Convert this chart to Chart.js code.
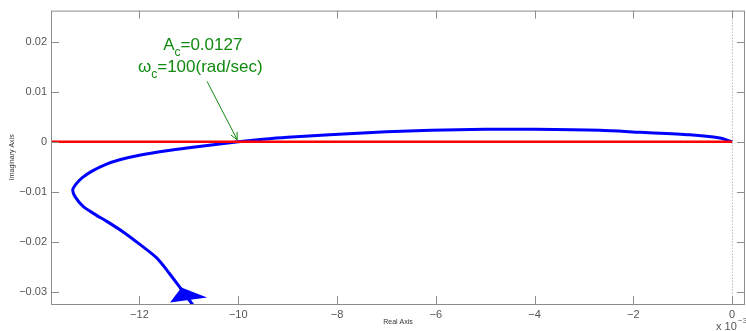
<!DOCTYPE html>
<html>
<head>
<meta charset="utf-8">
<script src="https://cdn.jsdelivr.net/npm/chart.js@4.4.1/dist/chart.umd.min.js"></script>
<style>
  html, body { margin: 0; padding: 0; background: #fff; }
  #wrap { width: 746px; height: 331px; }
</style>
</head>
<body>
<div id="wrap"><canvas id="nyquist"></canvas></div>
<script>
// real part is in units of 1e-3 (axis shows "x 10^-3")
const realPart = [0, -0.25, -0.86, -1.87, -2.68, -4.0, -5.0, -6.1, -7.0, -8.15, -9.0, -9.5, -10.0,
  -10.5, -11.0, -11.45, -12.0, -12.4, -12.7, -12.95, -13.15, -13.28, -13.35, -13.3, -13.14,
  -12.9, -12.66, -12.3, -11.99, -11.65, -11.4, -11.18, -11.0, -10.85];
const imagPart = [0, 0.00075, 0.0014, 0.0019, 0.0023, 0.0025, 0.0025, 0.0023, 0.0020, 0.0014, 0.0009, 0.0005, 0,
  -0.0006, -0.0012, -0.0018, -0.0027, -0.0036, -0.0046, -0.0058, -0.0071, -0.0084, -0.0096, -0.0110, -0.0129,
  -0.0145, -0.0159, -0.0182, -0.0205, -0.0232, -0.0262, -0.0291, -0.0315, -0.0335];

// unit circle crossing line (y = 0)
const redX = [-13.79, 0];
const redY = [0, 0];

// direction arrowhead on the curve
const headX = [-11.15, -11.38, -10.63];
const headY = [-0.0291, -0.0321, -0.0311];

// annotation
const noteLines = [['A', 'c', '=0.0127'], ['\u03c9', 'c', '=100(rad/sec)']];
const noteX = [-11.52, -12.03];
const noteY = [0.0184, 0.01403];
const noteArrow = { from: [-10.63, 0.01205], to: [-10.02, 0.0004] };

const xTicks = [-12, -10, -8, -6, -4, -2, 0];
const yTicks = [-0.03, -0.02, -0.01, 0, 0.01, 0.02];

const pts = (xs, ys) => xs.map((x, i) => ({ x: x, y: ys[i] }));
const fmt = v => {
  const r = Math.round(v * 1000) / 1000;
  return String(r).replace('-', '\u2212');
};

const frame = {
  id: 'frame',
  beforeDatasetsDraw(chart) {
    const { ctx, chartArea: a, scales } = chart;
    // dotted line at re = 0
    const x0 = scales.x.getPixelForValue(0);
    ctx.save();
    ctx.strokeStyle = '#999';
    ctx.lineWidth = 1;
    ctx.setLineDash([1, 2]);
    ctx.beginPath();
    ctx.moveTo(Math.round(x0) + 0.5, a.top);
    ctx.lineTo(Math.round(x0) + 0.5, a.bottom);
    ctx.stroke();
    ctx.restore();
  },
  afterDatasetsDraw(chart) {
    const { ctx, chartArea: a, scales } = chart;
    const sx = scales.x, sy = scales.y;
    ctx.save();
    // box + inward ticks
    ctx.strokeStyle = '#8c8c8c';
    ctx.lineWidth = 1;
    ctx.strokeRect(a.left + 0.5, a.top + 0.5, a.right - a.left - 1, a.bottom - a.top);
    ctx.beginPath();
    xTicks.forEach(v => {
      const p = Math.round(sx.getPixelForValue(v)) + 0.5;
      ctx.moveTo(p, a.bottom); ctx.lineTo(p, a.bottom - 8);
      ctx.moveTo(p, a.top); ctx.lineTo(p, a.top + 8);
    });
    yTicks.forEach(v => {
      const p = Math.round(sy.getPixelForValue(v)) + 0.5;
      ctx.moveTo(a.left, p); ctx.lineTo(a.left + 8, p);
      ctx.moveTo(a.right, p); ctx.lineTo(a.right - 8, p);
    });
    ctx.stroke();

    // arrowhead on the curve
    ctx.fillStyle = '#0000ff';
    ctx.beginPath();
    headX.forEach((x, i) => {
      const px = sx.getPixelForValue(x), py = sy.getPixelForValue(headY[i]);
      i ? ctx.lineTo(px, py) : ctx.moveTo(px, py);
    });
    ctx.closePath();
    ctx.fill();

    // green annotation
    const green = '#108a10';
    ctx.fillStyle = green;
    ctx.textBaseline = 'alphabetic';
    ctx.textAlign = 'left';
    noteLines.forEach((parts, i) => {
      let px = sx.getPixelForValue(noteX[i]);
      const py = sy.getPixelForValue(noteY[i]);
      ctx.font = '17px "Liberation Sans", Arial, sans-serif';
      ctx.fillText(parts[0], px, py);
      px += ctx.measureText(parts[0]).width;
      ctx.font = '12px "Liberation Sans", Arial, sans-serif';
      ctx.fillText(parts[1], px, py + 6);
      px += ctx.measureText(parts[1]).width;
      ctx.font = '17px "Liberation Sans", Arial, sans-serif';
      ctx.fillText(parts[2], px, py);
    });
    const fx = sx.getPixelForValue(noteArrow.from[0]), fy = sy.getPixelForValue(noteArrow.from[1]);
    const tx = sx.getPixelForValue(noteArrow.to[0]), ty = sy.getPixelForValue(noteArrow.to[1]);
    ctx.strokeStyle = green;
    ctx.lineWidth = 1;
    ctx.beginPath();
    ctx.moveTo(fx, fy); ctx.lineTo(tx, ty);
    const ang = Math.atan2(ty - fy, tx - fx);
    ctx.moveTo(tx - 8 * Math.cos(ang - 0.45), ty - 8 * Math.sin(ang - 0.45));
    ctx.lineTo(tx, ty);
    ctx.lineTo(tx - 8 * Math.cos(ang + 0.45), ty - 8 * Math.sin(ang + 0.45));
    ctx.stroke();

    // axis titles
    ctx.fillStyle = '#333';
    ctx.font = '7px "Liberation Sans", Arial, sans-serif';
    ctx.textAlign = 'center';
    ctx.textBaseline = 'middle';
    ctx.fillText('Real Axis', (a.left + a.right) / 2, 322);
    ctx.save();
    ctx.translate(12, (a.top + a.bottom) / 2);
    ctx.rotate(-Math.PI / 2);
    ctx.fillText('Imaginary Axis', 0, 0);
    ctx.restore();

    // exponent
    ctx.fillStyle = '#555';
    ctx.textAlign = 'left';
    ctx.textBaseline = 'alphabetic';
    ctx.font = '11px "Liberation Sans", Arial, sans-serif';
    ctx.fillText('x 10', 716, 330);
    ctx.font = '8px "Liberation Sans", Arial, sans-serif';
    ctx.fillText('\u22123', 738, 323);
    ctx.restore();
  }
};

new Chart(document.getElementById('nyquist').getContext('2d'), {
  type: 'scatter',
  data: {
    datasets: [
      {
        data: pts(realPart, imagPart),
        showLine: true,
        borderColor: '#0000ff',
        borderWidth: 3,
        pointRadius: 0,
        tension: 0.25,
        order: 2,
      },
      {
        data: pts(redX, redY),
        showLine: true,
        borderColor: '#ff0000',
        borderWidth: 2.5,
        pointRadius: 0,
        order: 1,
      },
    ],
  },
  options: {
    responsive: true,
    maintainAspectRatio: false,
    animation: false,
    events: [],
    layout: { padding: { top: 9, right: 1, left: 0, bottom: 0 } },
    plugins: { legend: { display: false }, tooltip: { enabled: false } },
    scales: {
      x: {
        type: 'linear',
        min: -13.79,
        max: 0.26,
        afterFit: s => { s.height = 27; },
        grid: { display: false, drawTicks: false },
        border: { display: false },
        ticks: {
          stepSize: 2,
          includeBounds: false,
          padding: 4,
          color: '#555',
          font: { family: '"Liberation Sans", Arial, sans-serif', size: 11 },
          callback: v => fmt(v),
        },
      },
      y: {
        type: 'linear',
        min: -0.0324,
        max: 0.0262,
        afterFit: s => { s.width = 51; },
        grid: { display: false, drawTicks: false },
        border: { display: false },
        ticks: {
          stepSize: 0.01,
          includeBounds: false,
          padding: 4,
          color: '#555',
          font: { family: '"Liberation Sans", Arial, sans-serif', size: 11 },
          callback: v => fmt(v),
        },
      },
    },
  },
  plugins: [frame],
});
</script>
</body>
</html>
